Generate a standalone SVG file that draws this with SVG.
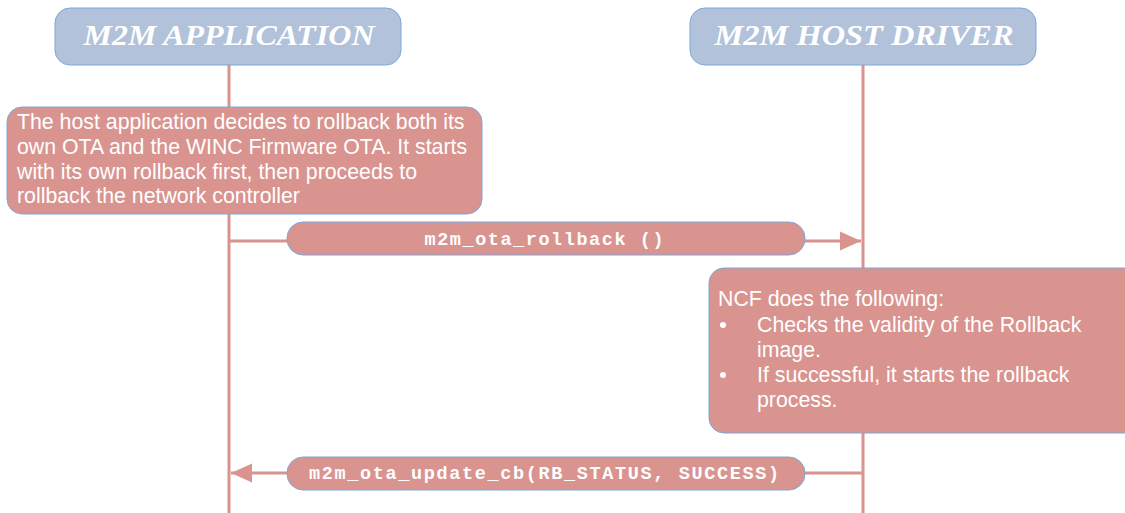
<svg xmlns="http://www.w3.org/2000/svg" width="1125" height="513" viewBox="0 0 1125 513">
<style>
.hdr{fill:#b1c2da;stroke:#7da6dd;stroke-width:1}
.hdrt{font-family:"Liberation Serif",serif;font-weight:bold;font-style:italic;font-size:29px;fill:#ffffff;text-anchor:middle}
.box{fill:#d9948f;stroke:#7da6dd;stroke-width:1}
.nt{font-family:"Liberation Sans",Arial,sans-serif;font-size:21.3px;fill:#ffffff}
.mt{font-family:"Liberation Mono","Courier New",monospace;font-weight:bold;font-size:18.5px;fill:#ffffff;text-anchor:middle}
.life{stroke:#d9948f;stroke-width:3;fill:none}
.msg{stroke:#d9948f;stroke-width:3;fill:none}
.bul{fill:#ffffff}
</style>
<defs>
<marker id="ah" markerWidth="8" markerHeight="8" refX="7" refY="4" orient="auto" markerUnits="strokeWidth">
<path d="M0,0.8 L7,4 L0,7.2 Z" fill="#d9948f"/>
</marker>
</defs>
<g id="lifelines">
<line class="life" x1="229" y1="65" x2="229" y2="513"/>
<line class="life" x1="863" y1="65" x2="863" y2="513"/>
</g>
<g id="connectors">
<path class="msg" d="M229,241 L287,241"/>
<path class="msg" d="M805,241 L861,241" marker-end="url(#ah)"/>
<path class="msg" d="M863,473 L805,473"/>
<path class="msg" d="M287,473 L231,473" marker-end="url(#ah)"/>
</g>
<g id="app">
<rect class="hdr" x="55" y="8" width="346" height="57" rx="15"/>
<text class="hdrt" x="229" y="45" textLength="291" lengthAdjust="spacingAndGlyphs">M2M APPLICATION</text>
</g>
<g id="driver">
<rect class="hdr" x="690" y="8" width="346" height="57" rx="15"/>
<text class="hdrt" x="864" y="45" textLength="299" lengthAdjust="spacingAndGlyphs">M2M HOST DRIVER</text>
</g>
<g id="note1">
<rect class="box" x="7" y="107" width="475" height="107" rx="15"/>
<text class="nt" x="17" y="129">The host application decides to rollback both its</text>
<text class="nt" x="17" y="154">own OTA and the WINC Firmware OTA. It starts</text>
<text class="nt" x="17" y="179">with its own rollback first, then proceeds to</text>
<text class="nt" x="17" y="203">rollback the network controller</text>
</g>
<g id="msg1">
<rect class="box" x="287" y="222" width="518" height="33" rx="16"/>
<text class="mt" x="544" y="245" textLength="239" lengthAdjust="spacing">m2m_ota_rollback ()</text>
</g>
<g id="note2">
<rect class="box" x="709" y="268" width="430" height="165" rx="15"/>
<text class="nt" x="718" y="306">NCF does the following:</text>
<circle class="bul" cx="723" cy="325" r="3"/>
<text class="nt" x="757" y="332">Checks the validity of the Rollback</text>
<text class="nt" x="757" y="357">image.</text>
<circle class="bul" cx="723" cy="375" r="3"/>
<text class="nt" x="757" y="382">If successful, it starts the rollback</text>
<text class="nt" x="757" y="407">process.</text>
</g>
<g id="msg2">
<rect class="box" x="287" y="457" width="518" height="33" rx="16"/>
<text class="mt" x="544" y="479" textLength="470" lengthAdjust="spacing">m2m_ota_update_cb(RB_STATUS, SUCCESS)</text>
</g>
</svg>
